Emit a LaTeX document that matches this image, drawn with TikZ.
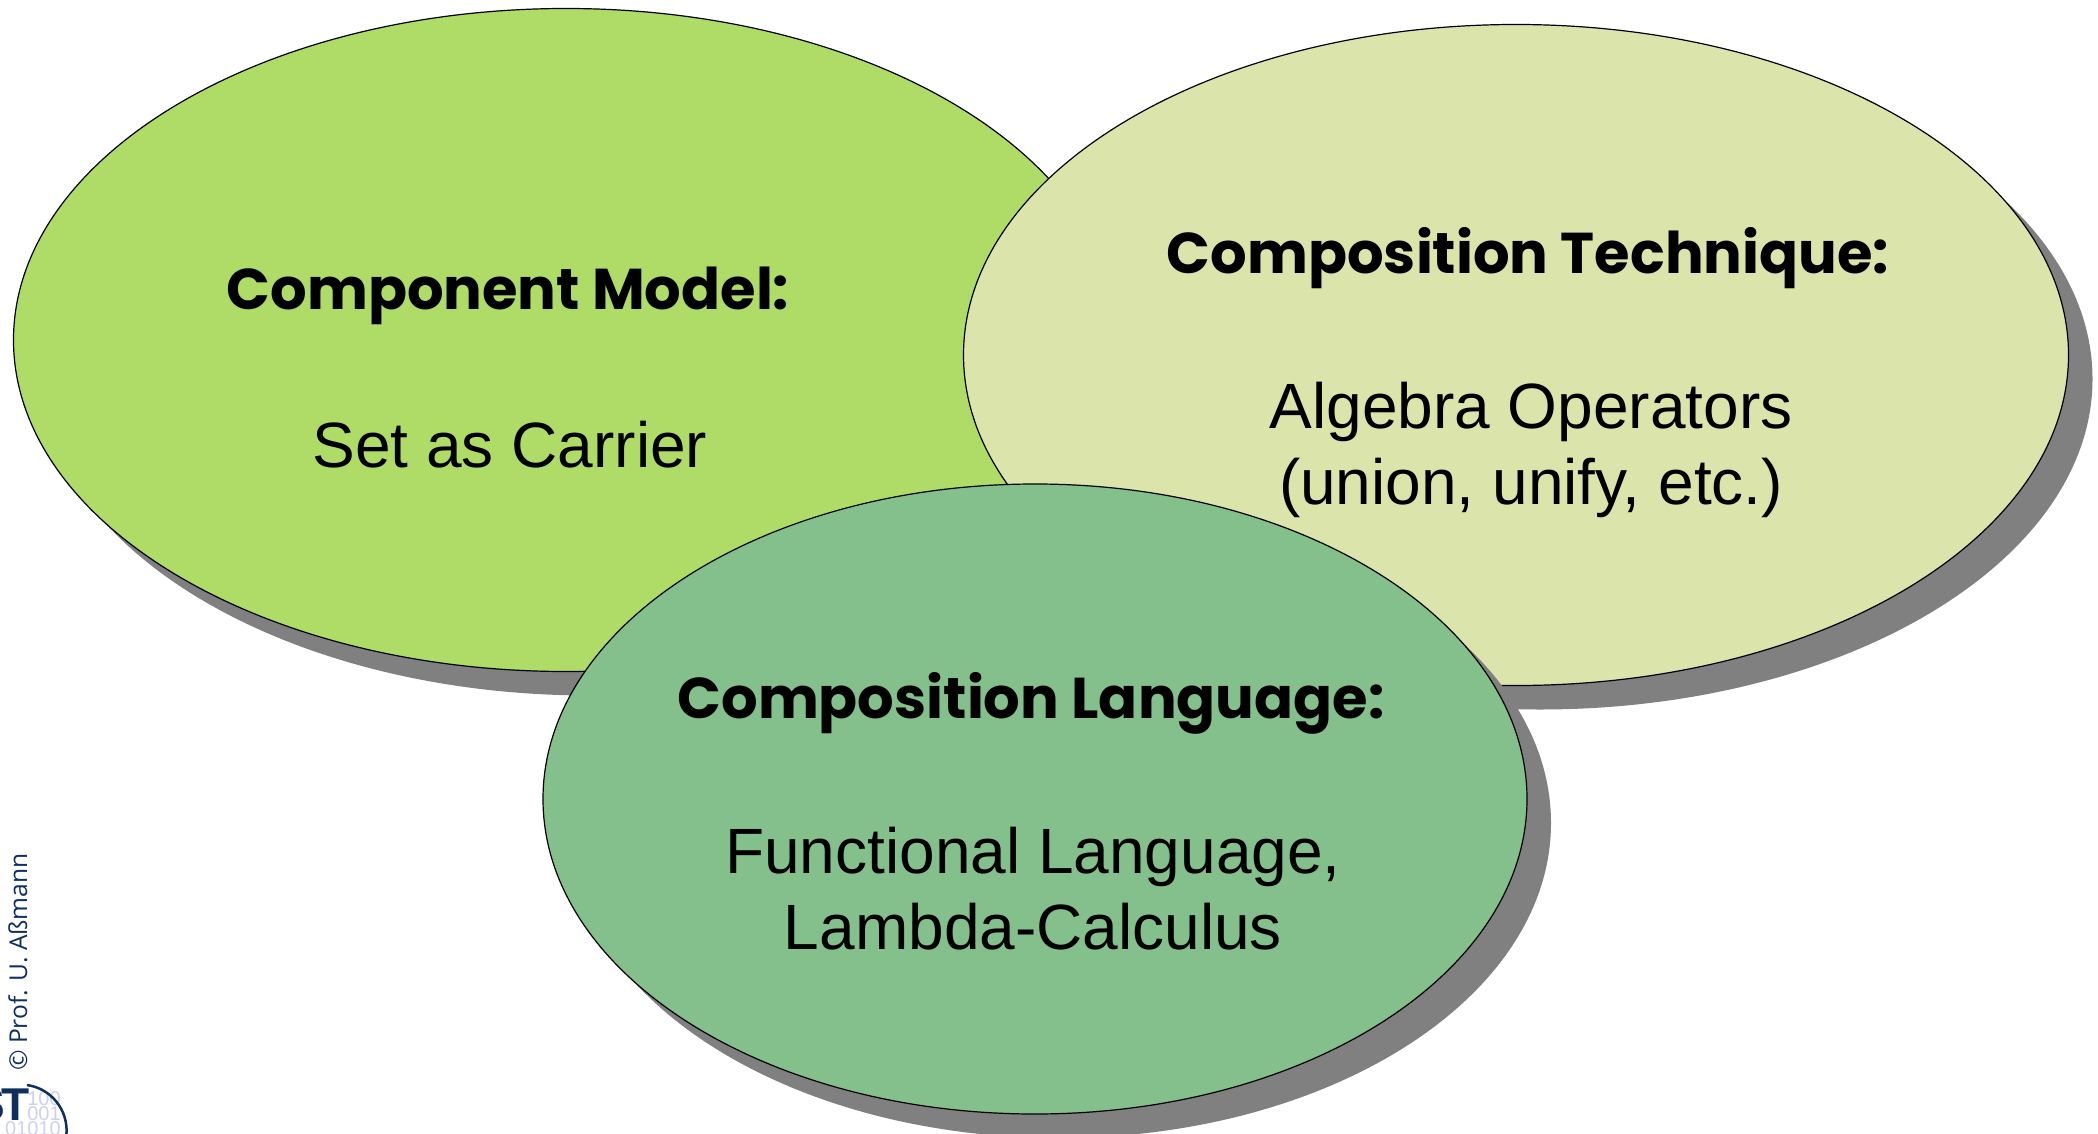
\documentclass[tikz,border=0pt]{standalone}
\usepackage{fontspec}
\setmainfont{Liberation Sans}
\newfontfamily\handfont{Poppins}
\newfontfamily\smallfont{Open Sans}
\usetikzlibrary{shapes.geometric,shadows}
\definecolor{modelgreen}{HTML}{AEDC66}
\definecolor{techgreen}{HTML}{DBE5AB}
\definecolor{langgreen}{HTML}{83C08C}
\definecolor{stnavy}{HTML}{0F2F5F}
\definecolor{stdigit}{HTML}{CFCFF0}
\tikzset{
  blob/.style={ellipse, draw=black, line width=1.2pt, inner sep=0pt,
    drop shadow={shadow xshift=24pt, shadow yshift=-24pt, fill=black!50, opacity=1}},
  headtext/.style={font=\handfont\fontsize{57.5}{60}\selectfont\bfseries, anchor=center},
  bodytext/.style={font=\fontsize{64}{76}\selectfont, align=center, anchor=center},
  digits/.style={font=\fontsize{20}{20}\selectfont, text=stdigit, inner sep=0pt}
}
\begin{document}
\begin{tikzpicture}[x=1pt,y=-1pt]
\useasboundingbox (0,0) rectangle (2098,1134);
% The three ellipses
\node[blob, fill=modelgreen, minimum width=1105pt, minimum height=663pt] (model) at (566,340) {};
\node[blob, fill=techgreen, minimum width=1105pt, minimum height=661pt] (tech) at (1516,355) {};
\node[blob, fill=langgreen, minimum width=984pt, minimum height=630pt] (lang) at (1035,799) {};

% Headings and texts
\node[headtext] (modelhead) at (508,296) {Component Model:};
\node[bodytext] (modelbody) at (510,445) {Set as Carrier};
\node[headtext] (techhead) at (1528,258) {Composition Technique:};
\node[bodytext] (techbody) at (1531,450) {Algebra Operators\\(union, unify, etc.)};
\node[headtext] (langhead) at (1031,703) {Composition Language:};
\node[bodytext] (langbody) at (1033,889) {Functional Language,\\Lambda-Calculus};

% Logo and copyright
\node[rotate=90, font=\smallfont\fontsize{24.6}{26}\selectfont, text=stnavy, inner sep=0pt] (copyright) at (18,962) {© Prof. U. Aßmann};
\begin{scope}
\clip (0,1080) rectangle (70,1134);
\node[digits] (digitsa) at (44,1099) {100};
\node[digits] (digitsb) at (44,1114) {001};
\node[digits] (digitsc) at (33,1129) {01010};
\node[font=\fontsize{46}{46}\selectfont\bfseries, text=stnavy, inner sep=0pt] (logo) at (2,1105) {S\kern-3ptT};
\draw[stnavy, line width=2.5pt] (27,1085) arc[start angle=-82, end angle=5, radius=46];
\end{scope}
\end{tikzpicture}
\end{document}
